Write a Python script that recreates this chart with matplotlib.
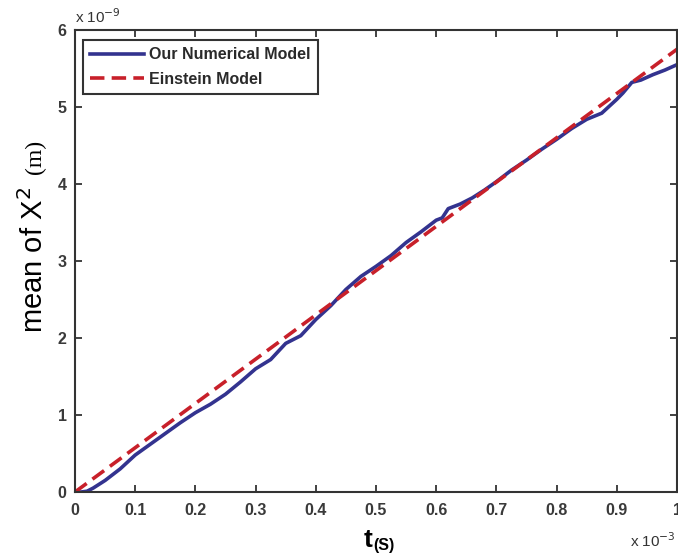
import numpy as np
import matplotlib
matplotlib.use("Agg")
import matplotlib.pyplot as plt

# time in units of 1e-3 s, mean square displacement in units of 1e-9 m^2
t_num = [0, 0.01, 0.02, 0.03, 0.05, 0.075, 0.1, 0.125, 0.15, 0.175, 0.2,
         0.225, 0.25, 0.275, 0.3, 0.325, 0.35, 0.375, 0.4, 0.425, 0.45,
         0.475, 0.5, 0.525, 0.55, 0.575, 0.6, 0.61, 0.62, 0.64, 0.66, 0.68,
         0.7, 0.725, 0.75, 0.775, 0.8, 0.825, 0.85, 0.875, 0.9, 0.91,
         0.925, 0.94, 0.96, 0.98, 1.0]
x2_num = [0, 0.0, 0.01, 0.05, 0.15, 0.30, 0.48, 0.62, 0.76, 0.90, 1.03,
          1.14, 1.27, 1.43, 1.60, 1.72, 1.93, 2.03, 2.24, 2.42, 2.63,
          2.80, 2.93, 3.07, 3.24, 3.38, 3.53, 3.56, 3.68, 3.74, 3.82, 3.92,
          4.03, 4.18, 4.31, 4.45, 4.58, 4.72, 4.84, 4.92, 5.10, 5.18,
          5.32, 5.35, 5.42, 5.48, 5.55]
t_ein = [0, 1.0]
x2_ein = [0, 5.75]

labels = ["Our Numerical Model", "Einstein Model"]
xticks = [0, 0.1, 0.2, 0.3, 0.4, 0.5, 0.6, 0.7, 0.8, 0.9, 1]
xticklabels = ["0", "0.1", "0.2", "0.3", "0.4", "0.5", "0.6", "0.7", "0.8", "0.9", "1"]
yticks = [0, 1, 2, 3, 4, 5, 6]

plt.rcParams['font.family'] = ['Liberation Sans', 'DejaVu Sans']
dark = '#333333'

W, H = 678, 555
fig = plt.figure(figsize=(W / 100, H / 100), dpi=100)
ax = fig.add_axes([75 / W, 1 - 492 / H, (677 - 75) / W, (492 - 30) / H])

ax.plot(t_num, x2_num, color='#33338f', lw=2.6, label=labels[0])
ax.plot(t_ein, x2_ein, color='#c8202a', lw=2.6, ls=(0, (4, 2)), label=labels[1])

ax.set_xlim(0, 1)
ax.set_ylim(0, 6)
ax.set_xticks(xticks)
ax.set_xticklabels(xticklabels)
ax.set_yticks(yticks)
ax.tick_params(direction='in', length=5, width=1.3, colors=dark,
               top=True, right=True, labelsize=11.5)
ax.tick_params(axis='x', pad=8)
ax.tick_params(axis='y', pad=6)
for lab in ax.get_xticklabels() + ax.get_yticklabels():
    lab.set_fontweight('bold')
    lab.set_color('#3a3a3a')
for s in ax.spines.values():
    s.set_color(dark)
    s.set_linewidth(1.5)

leg = ax.legend(loc='upper left', bbox_to_anchor=(0.0133, 0.978),
                borderaxespad=0, fancybox=False, framealpha=1,
                handlelength=3.4, handletextpad=0.3, borderpad=0.45,
                labelspacing=0.6, prop={'size': 11.5, 'weight': 'bold'})
leg.get_frame().set_edgecolor(dark)
leg.get_frame().set_linewidth(1.5)
for txt in leg.get_texts():
    txt.set_color('#2a2a2a')

# axis labels
fig.text(34 / W, 1 - 333 / H, 'mean of X$^2$', rotation=90, ha='center',
         va='bottom', fontsize=21)
fig.text(35 / W, 1 - 174 / H, '(m)', rotation=90, ha='center', va='bottom',
         fontsize=17, family='Liberation Serif')
fig.text(373 / W, 1 - 547 / H, 't', ha='right', va='baseline',
         fontsize=19, fontweight='bold')
fig.text(373 / W, 1 - 550 / H, '(S)', ha='left', va='baseline',
         fontsize=11.5, fontweight='bold')

# scale factors
fig.text(630 / W, 1 - 547 / H, 'x 10$^{-3}$', ha='left', va='baseline',
         fontsize=11, color=dark)
fig.text(75 / W, 1 - 23 / H, 'x 10$^{-9}$', ha='left', va='baseline',
         fontsize=11, color=dark)

fig.savefig('out.png', dpi=100)
